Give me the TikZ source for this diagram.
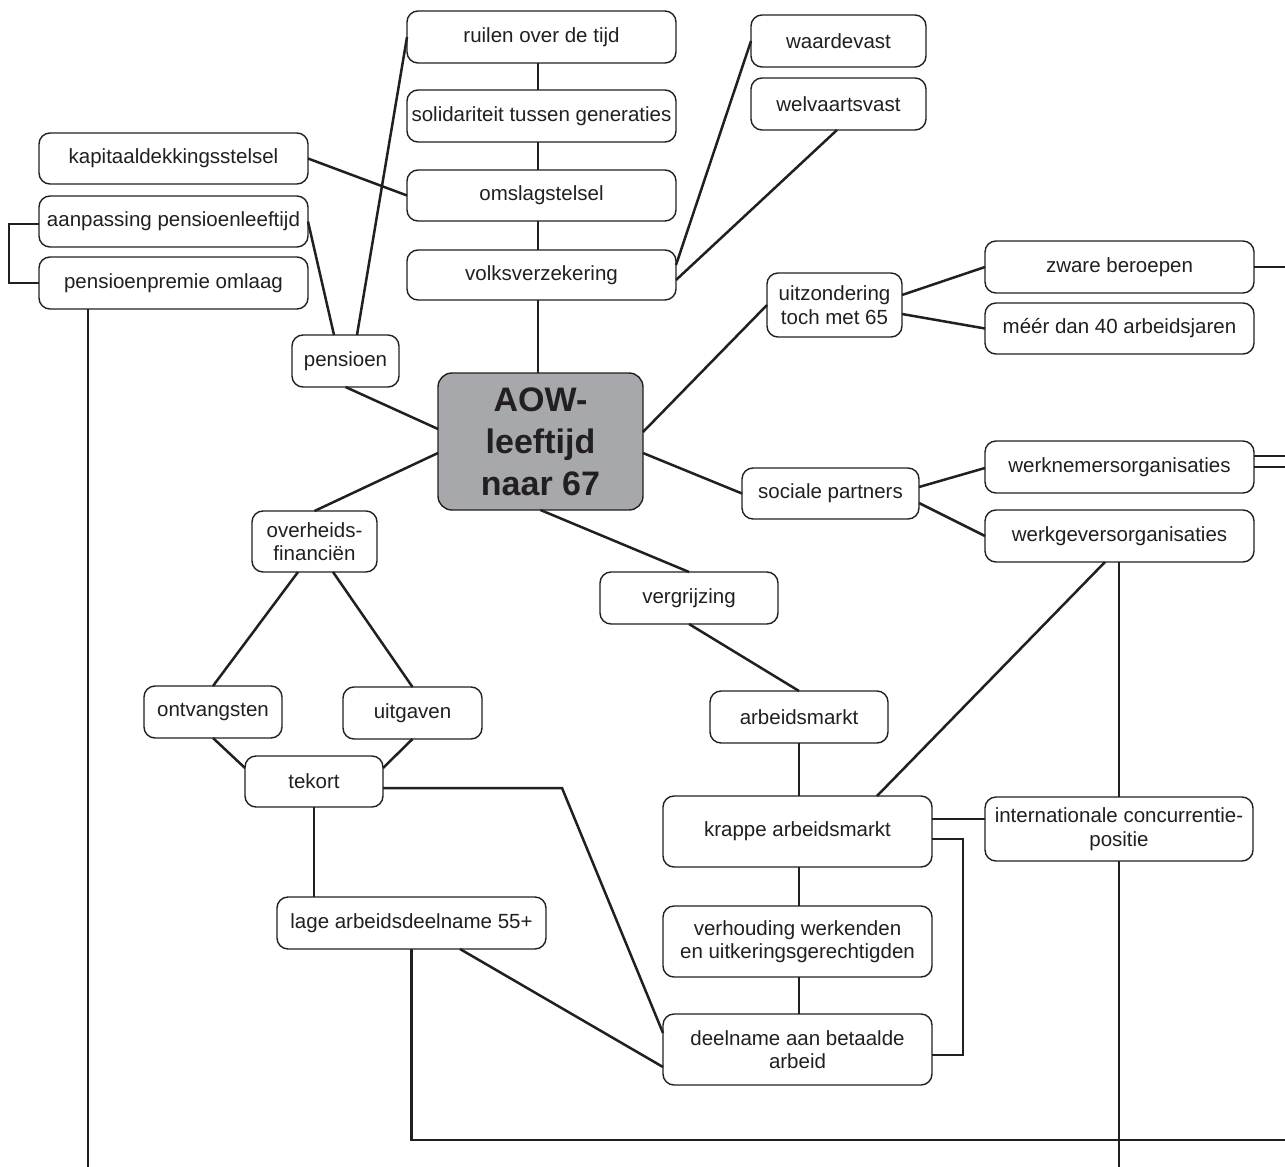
\documentclass[tikz,border=0pt]{standalone}
\usepackage{fontspec}
\setmainfont{Liberation Sans}
\definecolor{ink}{HTML}{231F20}
\definecolor{aowgray}{HTML}{A7A8AB}
\tikzset{
  box/.style={draw=ink, line width=1.4pt, rounded corners=11pt, fill=white,
    inner sep=0pt, outer sep=0pt, align=center, text=ink,
    font=\fontsize{20.5}{23.5}\selectfont},
  mainbox/.style={box, fill=aowgray, rounded corners=14pt,
    font=\fontsize{34}{42}\selectfont\bfseries},
  link/.style={draw=ink, line width=2.5pt},
}
\newcommand\mybox[6]{\node[box, minimum width=#4, minimum height=#5] (#1) at (#2,#3) {#6};}
\begin{document}
\begin{tikzpicture}[x=1pt,y=-1pt]
\fill[white] (0,0) rectangle (1285,1167);
\useasboundingbox (0,0) rectangle (1285,1167);

% nodes
\mybox{ruilen}{541.5}{37}{269}{52}{ruilen over de tijd}
\mybox{sol}{541.5}{116}{269}{52}{solidariteit tussen generaties}
\mybox{oms}{541.5}{195.5}{269}{51}{omslagstelsel}
\mybox{volks}{541.5}{275}{269}{50}{volksverzekering}
\mybox{waarde}{838.5}{41}{175}{52}{waardevast}
\mybox{welv}{838.5}{104}{175}{52}{welvaartsvast}
\mybox{kap}{173.5}{158.5}{269}{51}{kapitaaldekkingsstelsel}
\mybox{aan}{173.5}{221.5}{269}{51}{aanpassing pensioenleeftijd}
\mybox{prem}{173.5}{283}{269}{52}{pensioenpremie omlaag}
\mybox{pens}{345.5}{361}{107}{52}{pensioen}
\node[mainbox, minimum width=205, minimum height=137] (aow) at (540.5,441.5) {AOW-\\leeftijd\\naar 67};
\mybox{uitz}{834.5}{305}{135}{64}{uitzondering\\toch met 65}
\mybox{zware}{1119.5}{267}{269}{52}{zware beroepen}
\mybox{meer}{1119.5}{328.5}{269}{51}{méér dan 40 arbeidsjaren}
\mybox{soc}{830.5}{493.5}{177}{51}{sociale partners}
\mybox{werkn}{1119.5}{467}{269}{52}{werknemersorganisaties}
\mybox{werkg}{1119.5}{536}{269}{52}{werkgeversorganisaties}
\mybox{overh}{314.5}{541.5}{125}{61}{overheids-\\financiën}
\mybox{verg}{689}{598}{178}{52}{vergrijzing}
\mybox{ontv}{213}{712}{138}{52}{ontvangsten}
\mybox{uitg}{412.5}{713}{139}{52}{uitgaven}
\mybox{tek}{314}{781.5}{138}{51}{tekort}
\mybox{arb}{799}{717}{178}{52}{arbeidsmarkt}
\mybox{krap}{797.5}{831.5}{269}{71}{krappe arbeidsmarkt}
\mybox{intl}{1119}{829}{268}{64}{internationale concurrentie-\\positie}
\mybox{lage}{411.5}{923}{269}{52}{lage arbeidsdeelname 55+}
\mybox{verh}{797.5}{941.5}{269}{71}{verhouding werkenden\\en uitkeringsgerechtigden}
\mybox{deel}{797.5}{1049.5}{269}{71}{deelname aan betaalde\\arbeid}

% free ends
\coordinate (e1) at (88,1167);
\coordinate (e2) at (1285,267);
\coordinate (e3) at (1285,456);
\coordinate (e4) at (1285,467);
\coordinate (e5) at (1285,1140);
\coordinate (e6) at (1119,1167);

% connectors
\draw[link] (ruilen.south -| 538,0) -- (sol.north -| 538,0);
\draw[link] (sol.south -| 538,0) -- (oms.north -| 538,0);
\draw[link] (oms.south -| 538,0) -- (volks.north -| 538,0);
\draw[link] (volks.south -| 538,0) -- (aow.north -| 538,0);
\draw[link] (kap.east) -- (oms.west);
\draw[link] (aan.east) -- (pens.north -| 334,0);
\draw[link] (pens.north -| 357,0) -- (ruilen.west);
\draw[link] (pens.south) -- (aow.west |- 0,429);
\draw[link] (aan.west |- 0,224) -- ++(-30,0) |- (prem.west);
\draw[link] (prem.south -| 88,0) -- (e1);
\draw[link] (volks.east |- 0,265) -- (waarde.west);
\draw[link] (volks.east |- 0,280) -- (welv.south -| 837,0);
\draw[link] (aow.east |- 0,432) -- (uitz.west);
\draw[link] (uitz.east |- 0,295) -- (zware.west);
\draw[link] (uitz.east |- 0,314) -- (meer.west);
\draw[link] (zware.east) -- (e2);
\draw[link] (aow.east |- 0,453) -- (soc.west);
\draw[link] (soc.east |- 0,487) -- (werkn.west |- 0,468);
\draw[link] (soc.east |- 0,503) -- (werkg.west);
\draw[link] (werkn.east |- 0,456) -- (e3);
\draw[link] (werkn.east |- 0,467) -- (e4);
\draw[link] (aow.west |- 0,453) -- (overh.north);
\draw[link] (overh.south -| 298,0) -- (ontv.north);
\draw[link] (overh.south -| 333,0) -- (uitg.north);
\draw[link] (ontv.south) -- (tek.west |- 0,768);
\draw[link] (uitg.south) -- (tek.east |- 0,768);
\draw[link] (tek.south) -- (lage.north -| 314,0);
\draw[link] (tek.east |- 0,788) -- (562,788) -- (deel.west |- 0,1033);
\draw[link] (lage.south) -- (lage.south |- e5) -- (e5);
\draw[link] (lage.south -| 460,0) -- (deel.west |- 0,1067);
\draw[link] (aow.south) -- (verg.north);
\draw[link] (verg.south) -- (arb.north);
\draw[link] (arb.south) -- (krap.north -| arb.south);
\draw[link] (krap.south -| 799,0) -- (verh.north -| 799,0);
\draw[link] (verh.south -| 799,0) -- (deel.north -| 799,0);
\draw[link] (werkg.south -| 1105,0) -- (krap.north -| 877,0);
\draw[link] (werkg.south -| 1119,0) -- (intl.north);
\draw[link] (intl.south) -- (e6);
\draw[link] (krap.east |- 0,819) -- (intl.west |- 0,819);
\draw[link] (krap.east |- 0,839) -| (963,1055) -- (deel.east |- 0,1055);
\end{tikzpicture}
\end{document}
